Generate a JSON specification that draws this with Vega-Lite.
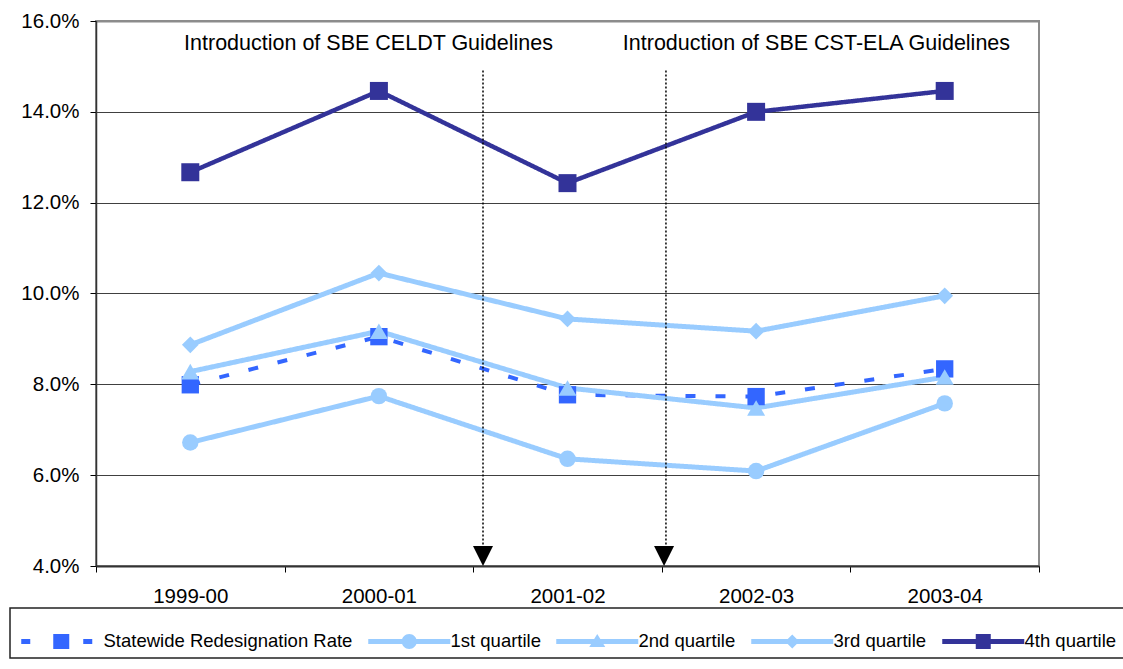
{
  "$schema": "https://vega.github.io/schema/vega-lite/v6.json",
  "width": 943,
  "height": 545,
  "autosize": {"type": "none"},
  "padding": {"left": 96, "top": 21, "right": 84, "bottom": 103},
  "background": "white",
  "config": {
    "view": {"stroke": "#8c8c8c", "strokeWidth": 2},
    "font": "Liberation Sans"
  },
  "datasets": {
    "series": [
      {"year": "1999-00", "series": "Statewide Redesignation Rate", "value": 0.0799},
      {"year": "2000-01", "series": "Statewide Redesignation Rate", "value": 0.0905},
      {"year": "2001-02", "series": "Statewide Redesignation Rate", "value": 0.0777},
      {"year": "2002-03", "series": "Statewide Redesignation Rate", "value": 0.0773},
      {"year": "2003-04", "series": "Statewide Redesignation Rate", "value": 0.0834},
      {"year": "1999-00", "series": "1st quartile", "value": 0.0672},
      {"year": "2000-01", "series": "1st quartile", "value": 0.0774},
      {"year": "2001-02", "series": "1st quartile", "value": 0.0636},
      {"year": "2002-03", "series": "1st quartile", "value": 0.0609},
      {"year": "2003-04", "series": "1st quartile", "value": 0.0758},
      {"year": "1999-00", "series": "2nd quartile", "value": 0.0828},
      {"year": "2000-01", "series": "2nd quartile", "value": 0.0917},
      {"year": "2001-02", "series": "2nd quartile", "value": 0.0792},
      {"year": "2002-03", "series": "2nd quartile", "value": 0.0748},
      {"year": "2003-04", "series": "2nd quartile", "value": 0.0816},
      {"year": "1999-00", "series": "3rd quartile", "value": 0.0887},
      {"year": "2000-01", "series": "3rd quartile", "value": 0.1045},
      {"year": "2001-02", "series": "3rd quartile", "value": 0.0944},
      {"year": "2002-03", "series": "3rd quartile", "value": 0.0917},
      {"year": "2003-04", "series": "3rd quartile", "value": 0.0995},
      {"year": "1999-00", "series": "4th quartile", "value": 0.1267},
      {"year": "2000-01", "series": "4th quartile", "value": 0.1446},
      {"year": "2001-02", "series": "4th quartile", "value": 0.1243},
      {"year": "2002-03", "series": "4th quartile", "value": 0.1400},
      {"year": "2003-04", "series": "4th quartile", "value": 0.1446}
    ]
  },
  "layer": [
    {
      "data": {"name": "series"},
      "encoding": {
        "x": {
          "field": "year", "type": "nominal", "title": null,
          "scale": {"type": "band", "domain": ["1999-00", "2000-01", "2001-02", "2002-03", "2003-04"], "paddingInner": 0, "paddingOuter": 0},
          "axis": {
            "labelAngle": 0, "labelFont": "Liberation Sans", "labelFontSize": 20.5, "labelColor": "#000",
            "labelPadding": 14, "tickBand": "extent", "tickSize": 6, "tickColor": "#000", "tickWidth": 1,
            "domainColor": "#333", "domainWidth": 2, "grid": false
          }
        },
        "y": {
          "field": "value", "type": "quantitative", "title": null,
          "scale": {"domain": [0.04, 0.16], "nice": false, "zero": false},
          "axis": {
            "values": [0.04, 0.06, 0.08, 0.1, 0.12, 0.14, 0.16], "format": ".1%",
            "labelFont": "Liberation Sans", "labelFontSize": 20.5, "labelColor": "#000", "labelPadding": 11,
            "tickSize": 6, "tickColor": "#000", "tickWidth": 1, "domainColor": "#333", "domainWidth": 1.5,
            "grid": true, "gridColor": {"condition": {"test": "datum.value > 0.159", "value": "#8c8c8c"}, "value": "#404040"},
            "gridWidth": {"condition": {"test": "datum.value > 0.159", "value": 2}, "value": 1}
          }
        },
        "color": {
          "field": "series", "type": "nominal",
          "scale": {
            "domain": ["Statewide Redesignation Rate", "1st quartile", "2nd quartile", "3rd quartile", "4th quartile"],
            "range": ["#3366FF", "#99CCFF", "#99CCFF", "#99CCFF", "#333399"]
          },
          "legend": {
            "orient": "none", "legendX": -86, "legendY": 587, "direction": "horizontal",
            "title": " ", "titleFontSize": 8, "titlePadding": 9, "titleColor": "white",
            "padding": 7, "strokeColor": "#222",
            "labelFont": "Liberation Sans", "labelFontSize": 18.5, "labelColor": "#000", "labelLimit": 400, "labelOffset": 68,
            "symbolSize": 100, "symbolStrokeWidth": 0, "columnPadding": 11,
            "encode": {
              "legend": {"update": {"strokeWidth": {"value": 1.5}}},
              "symbols": {
                "update": {
                  "shape": {"signal": "datum.value === 'Statewide Redesignation Rate' ? 'M-1,-0.5H0.8V0.5H-1Z M5.4,-1.5H8.6V1.5H5.4Z M11.4,-0.5H13.2V0.5H11.4Z' : datum.value === '1st quartile' ? 'M-1,-0.5H15.4V0.5H-1Z M5.7,0A1.5,1.5 0 1,1 8.7,0A1.5,1.5 0 1,1 5.7,0Z' : datum.value === '2nd quartile' ? 'M-1,-0.5H15.4V0.5H-1Z M7.2,-1.5L8.8,1.1L5.6,1.1Z' : datum.value === '3rd quartile' ? 'M-1,-0.5H15.4V0.5H-1Z M7.2,-1.4L8.6,0L7.2,1.4L5.8,0Z' : 'M-1,-0.5H15.4V0.5H-1Z M5.7,-1.5H8.7V1.5H5.7Z'"},
                  "fill": {"scale": "color", "field": "value"},
                  "stroke": {"value": "transparent"},
                  "strokeWidth": {"value": 0},
                  "strokeDash": {"value": [1, 0]},
                  "size": {"value": 100},
                  "opacity": {"value": 1}
                }
              }
            }
          }
        }
      },
      "layer": [
        {
          "mark": {"type": "line"},
          "encoding": {
            "strokeDash": {
              "condition": {"test": "datum.series === 'Statewide Redesignation Rate'", "value": [10, 20]},
              "value": [1, 0]
            },
            "strokeWidth": {
              "condition": [
                {"test": "datum.series === 'Statewide Redesignation Rate'", "value": 4},
                {"test": "datum.series === '4th quartile'", "value": 4.5}
              ],
              "value": 5
            }
          }
        },
        {
          "mark": {"type": "point", "filled": true, "opacity": 1, "strokeWidth": 0},
          "encoding": {
            "shape": {
              "condition": [
                {"test": "datum.series === '1st quartile'", "value": "circle"},
                {"test": "datum.series === '2nd quartile'", "value": "triangle-up"},
                {"test": "datum.series === '3rd quartile'", "value": "diamond"}
              ],
              "value": "square"
            },
            "size": {
              "condition": [
                {"test": "datum.series === 'Statewide Redesignation Rate'", "value": 300},
                {"test": "datum.series === '1st quartile'", "value": 270},
                {"test": "datum.series === '3rd quartile'", "value": 280}
              ],
              "value": 324
            }
          }
        }
      ]
    },
    {
      "data": {"values": [{"year": "2001-02", "top": 0.1491, "bottom": 0.044, "base": 0.04}]},
      "layer": [
        {
          "mark": {"type": "rule", "strokeDash": [2, 2], "strokeWidth": 1.5, "color": "#000"},
          "encoding": {
            "x": {"field": "year", "type": "nominal", "bandPosition": 0.052, "title": null},
            "y": {"field": "top", "type": "quantitative", "title": null},
            "y2": {"field": "bottom"}
          }
        },
        {
          "mark": {"type": "point", "shape": "M-1,-2L1,-2L0,0Z", "size": 400, "filled": true, "color": "#000", "opacity": 1, "strokeWidth": 0},
          "encoding": {
            "x": {"field": "year", "type": "nominal", "bandPosition": 0.052, "title": null},
            "y": {"field": "base", "type": "quantitative", "title": null}
          }
        }
      ]
    },
    {
      "data": {"values": [{"year": "2002-03", "top": 0.1491, "bottom": 0.044, "base": 0.04}]},
      "layer": [
        {
          "mark": {"type": "rule", "strokeDash": [2, 2], "strokeWidth": 1.5, "color": "#000"},
          "encoding": {
            "x": {"field": "year", "type": "nominal", "bandPosition": 0.022, "title": null},
            "y": {"field": "top", "type": "quantitative", "title": null},
            "y2": {"field": "bottom"}
          }
        },
        {
          "mark": {"type": "point", "shape": "M-1,-2L1,-2L0,0Z", "size": 400, "filled": true, "color": "#000", "opacity": 1, "strokeWidth": 0},
          "encoding": {
            "x": {"field": "year", "type": "nominal", "bandPosition": 0.012, "title": null},
            "y": {"field": "base", "type": "quantitative", "title": null}
          }
        }
      ]
    },
    {
      "data": {"values": [{"year": "2000-01", "label": "Introduction of SBE CELDT Guidelines", "pos": 0.15362}]},
      "mark": {"type": "text", "fontSize": 21.5, "font": "Liberation Sans", "align": "center", "baseline": "alphabetic", "color": "#000"},
      "encoding": {
        "x": {"field": "year", "type": "nominal", "bandPosition": 0.445, "title": null},
        "y": {"field": "pos", "type": "quantitative", "title": null},
        "text": {"field": "label"}
      }
    },
    {
      "data": {"values": [{"year": "2002-03", "label": "Introduction of SBE CST-ELA Guidelines", "pos": 0.15362}]},
      "mark": {"type": "text", "fontSize": 21.5, "font": "Liberation Sans", "align": "center", "baseline": "alphabetic", "color": "#000"},
      "encoding": {
        "x": {"field": "year", "type": "nominal", "bandPosition": 0.82, "title": null},
        "y": {"field": "pos", "type": "quantitative", "title": null},
        "text": {"field": "label"}
      }
    }
  ]
}
